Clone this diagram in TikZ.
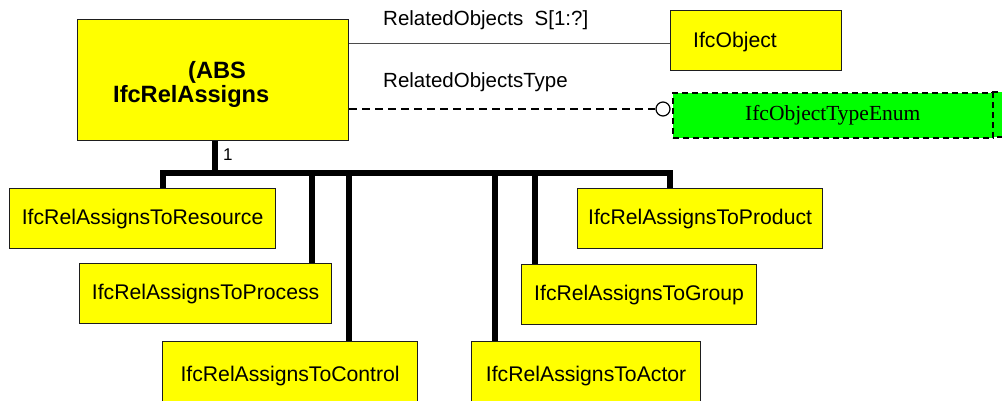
\documentclass[tikz,border=0pt]{standalone}
\usepackage{fontspec}
\setmainfont{Liberation Sans}
\newfontfamily\enumfont{Liberation Serif}
\definecolor{ifcyellow}{HTML}{FFFF00}
\definecolor{ifcgreen}{HTML}{00FF00}
\definecolor{edge}{HTML}{1E1E1E}
\begin{document}
\begin{tikzpicture}[x=1pt,y=-1pt,
  cls/.style={draw=edge, line width=1.2pt, fill=ifcyellow, inner sep=0pt,
    anchor=north west, font=\fontsize{21.2}{24}\selectfont},
  txt/.style={inner sep=0pt, anchor=base west},
  lbl/.style={inner sep=0pt, anchor=base west, font=\fontsize{20.5}{24}\selectfont},
  bus/.style={line width=6pt, line join=miter, draw=black},
  typebox/.style={draw=black, line width=1.5pt, dash pattern=on 6pt off 4pt,
    fill=ifcgreen, inner sep=0pt, anchor=north west},
  relline/.style={draw=edge!80, line width=1pt},
  optline/.style={draw=black, line width=1.1pt, dash pattern=on 8pt off 5pt}]
\clip (0,0) rectangle (1002,400);
\fill[white] (0,0) rectangle (1002,400);

% abstract supertype
\node[cls, minimum width=271pt, minimum height=121pt] (main) at (77,19) {};
\node[txt, font=\bfseries\fontsize{23.6}{26}\selectfont] (abs) at (188,78) {(ABS};
\node[txt, font=\bfseries\fontsize{23.6}{26}\selectfont] (name) at (113,102) {IfcRelAssigns};

% related object and its type
\node[cls, minimum width=171pt, minimum height=60pt] (obj) at (670,10) {};
\node[txt, font=\fontsize{21.2}{24}\selectfont] (objtxt) at (693,47) {IfcObject};

\fill[ifcgreen] (992,92) rectangle (1010,137);
\draw[typebox] (992,92) rectangle (1010,137);
\node[typebox, minimum width=320pt, minimum height=45pt,
  font=\enumfont\fontsize{21.5}{24}\selectfont] (enum) at (672,92) {IfcObjectTypeEnum};

\node[circle, draw=black, line width=1.2pt, fill=white, minimum size=14pt,
  inner sep=0pt] (circ) at (663,109) {};

\coordinate (relY) at (0,43);
\draw[relline] (main.east |- relY) -- (obj.west |- relY);
\draw[optline] (circ.west -| main.east) -- (circ.west);

\node[lbl] (l1) at (383,25) {RelatedObjects\ \ S[1:?]};
\node[lbl] (l2) at (383,87) {RelatedObjectsType};

% subtypes
\node[cls, minimum width=266pt, minimum height=60pt] (res)  at (9,188)   {IfcRelAssignsToResource};
\node[cls, minimum width=252pt, minimum height=60pt] (proc) at (79,263)  {IfcRelAssignsToProcess};
\node[cls, minimum width=255pt, minimum height=68pt] (ctrl) at (162,341) {IfcRelAssignsToControl};
\node[cls, minimum width=229pt, minimum height=68pt] (act)  at (471,341) {IfcRelAssignsToActor};
\node[cls, minimum width=235pt, minimum height=60pt] (grp)  at (521,264) {IfcRelAssignsToGroup};
\node[cls, minimum width=245pt, minimum height=60pt] (prod) at (577,188) {IfcRelAssignsToProduct};

% inheritance tree
\coordinate (busL)  at (163,173);
\coordinate (busR)  at (670,173);
\coordinate (sMain) at (215,173);
\coordinate (sProc) at (312,173);
\coordinate (sCtrl) at (349,173);
\coordinate (sAct)  at (495,173);
\coordinate (sGrp)  at (535,173);

\draw[bus] (sMain |- main.south) -- (sMain);
\draw[bus] (busL |- res.north) -- (busL) -- (busR) -- (busR |- prod.north);
\draw[bus] (sProc) -- (sProc |- proc.north);
\draw[bus] (sCtrl) -- (sCtrl |- ctrl.north);
\draw[bus] (sAct)  -- (sAct  |- act.north);
\draw[bus] (sGrp)  -- (sGrp  |- grp.north);

\node[txt, font=\fontsize{17}{20}\selectfont] (card) at (223,160) {1};
\end{tikzpicture}
\end{document}
